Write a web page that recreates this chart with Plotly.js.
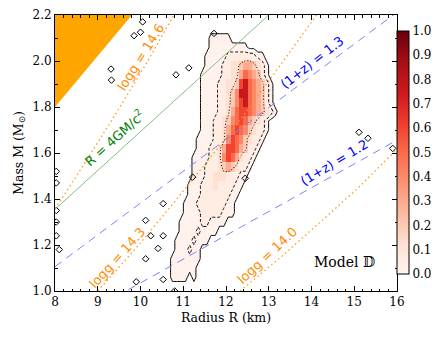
<!DOCTYPE html>
<html>
<head>
<meta charset="utf-8">
<script src="https://cdn.plot.ly/plotly-3.0.1.min.js"></script>
<style>
  body { margin: 0; background: #fff; }
  #chart { width: 441px; height: 338px; }
</style>
</head>
<body>
<div id="chart"></div>
<script>
// density shades, one char per bin (R step 0.1 km from 10.4, M step 0.04 from the top row 2.12-2.16)
var shadeLevels = [0, 0.015, 0.05, 0.12, 0.2, 0.3, 0.4, 0.5, 0.6, 0.75];
var densityRows = [
  '0000000000000000000000000000000',
  '0000000000001111100000000000000',
  '0000000000001111111110000000000',
  '0000000000011111222222211000000',
  '0000000000011112233455432100000',
  '0000000000111112233576542100000',
  '0000000000111122334897654210000',
  '0000000000111122346997654210000',
  '0000000000111122346897654210000',
  '0000000000111122357887654321000',
  '0000000000111223467875432100000',
  '0000000000111223578764322100000',
  '0000000001111223687643221000000',
  '0000000001112235887542210000000',
  '0000000011112236875322100000000',
  '0000000011122234543221000000000',
  '0000000011122333222110000000000',
  '0000000111222322221100000000000',
  '0000000111222222211000000000000',
  '0000001112222222110000000000000',
  '0000001111222221110000000000000',
  '0000011111221111000000000000000',
  '0000011112111100000000000000000',
  '0000111121110000000000000000000',
  '0000111211000000000000000000000',
  '0001111111000000000000000000000',
  '0001111110000000000000000000000',
  '0001111010000000000000000000000',
  '0000000000000000000000000000000'
];
var radiusStart = 10.4, radiusStep = 0.1;
var massTop = 2.16, massStep = 0.04;

// isolated small islands of the outer contour
var specksR = [9.31, 9.32, 10.83, 11.13, 11.72, 10.53, 10.12, 10.24, 10.53, 10.41, 10.12, 10.53, 9.9,
               10.8, 11.22, 12.45, 15.11, 15.32, 15.9, 8.03, 8.03, 8.03, 8.03, 8.03, 8.1, 9.85, 10.0, 10.05];
var specksM = [1.965, 1.917, 1.94, 1.97, 2.12, 1.38, 1.307, 1.24, 1.24, 1.185, 1.14, 1.05, 1.04,
               1.0, 1.495, 1.49, 1.69, 1.664, 1.62, 1.52, 1.47, 1.35, 1.30, 1.24, 1.18, 2.11, 2.125, 2.17];

// reference curves
var causalR = [8, 9.8, 8, 8];
var causalM = [1.8, 2.2, 2.2, 1.8];
var r4gmR = [8, 13];
var r4gmM = [1.355, 2.2];
var z13R = [8, 16];
var z13M = [1.106, 2.212];
var z12R = [8, 16];
var z12M = [0.828, 1.656];
var logg146R = [8, 8.59, 9.52, 10.17, 10.78];
var logg146M = [1.357, 1.525, 1.8, 2.0, 2.2];
var logg143R = [9.0, 9.96, 10.85, 11.72, 12.56, 14.12];
var logg143M = [1.0, 1.2, 1.4, 1.6, 1.8, 2.2];
var logg140R = [12.33, 13.3, 14.21, 15.1, 16.0];
var logg140M = [1.0, 1.15, 1.3, 1.45, 1.617];

var nCols = densityRows[0].length;
var xCenters = [], yCenters = [];
for (var i = 0; i < nCols; i++) xCenters.push(+(radiusStart + radiusStep * (i + 0.5)).toFixed(3));
var rowsUp = densityRows.slice().reverse();
for (var j = 0; j < rowsUp.length; j++) yCenters.push(+(massTop - massStep * (rowsUp.length - j - 0.5)).toFixed(3));
var zGrid = rowsUp.map(function (row) {
  return row.split('').map(function (ch) { return shadeLevels[+ch]; });
});
var zHeat = zGrid.map(function (r) { return r.map(function (v) { return v > 0 ? v : null; }); });

var reds = [[0, '#fff5f0'], [0.125, '#fee0d2'], [0.25, '#fcbba1'], [0.375, '#fc9272'],
            [0.5, '#fb6a4a'], [0.625, '#ef3b2c'], [0.75, '#cb181d'], [0.875, '#a50f15'], [1, '#67000d']];

var serif = 'DejaVu Serif, serif';
var sans = 'DejaVu Sans, sans-serif';

function contourLine(level, dash) {
  return {
    type: 'contour', x: xCenters, y: yCenters, z: zGrid,
    contours: {start: level, end: level, size: 1, coloring: 'none'},
    line: {color: 'black', width: 1, dash: dash, smoothing: 0},
    showscale: false, hoverinfo: 'skip'
  };
}
function curve(xs, ys, color, dash, width) {
  return {x: xs, y: ys, mode: 'lines', line: {color: color, dash: dash, width: width}, hoverinfo: 'skip'};
}

var data = [
  {x: causalR, y: causalM, mode: 'lines', fill: 'toself', fillcolor: '#ffa500', line: {width: 0}, hoverinfo: 'skip'},
  {
    type: 'heatmap', x: xCenters, y: yCenters, z: zHeat, zmin: 0, zmax: 1, colorscale: reds, zsmooth: false,
    hoverinfo: 'skip',
    colorbar: {
      thickness: 12, len: 0.88, lenmode: 'fraction', y: 0.502, yanchor: 'middle', x: 1.0, xanchor: 'left',
      xpad: 0, ypad: 0, outlinewidth: 1, outlinecolor: 'black', tick0: 0, dtick: 0.1, tickformat: '.1f',
      ticks: '', tickfont: {family: serif, size: 12, color: 'black'}
    }
  },
  contourLine(0.008, 'solid'),
  contourLine(0.033, '3px,2px'),
  contourLine(0.16, '1px,2px'),
  {x: specksR, y: specksM, mode: 'markers', marker: {symbol: 'diamond-open', size: 5, color: 'black', line: {width: 1}}, hoverinfo: 'skip'},
  curve(r4gmR, r4gmM, '#7fc07f', 'solid', 1),
  curve(z13R, z13M, '#8080ff', '8px,6px', 1),
  curve(z12R, z12M, '#8080ff', '8px,6px', 1),
  curve(logg146R, logg146M, '#ff9a1a', '1.5px,3px', 1.3),
  curve(logg143R, logg143M, '#ff9a1a', '1.5px,3px', 1.3),
  curve(logg140R, logg140M, '#ff9a1a', '1.5px,3px', 1.3)
];

function note(x, y, text, color, angle, size, family) {
  return {x: x, y: y, text: text, showarrow: false, textangle: angle,
          font: {family: family || sans, size: size || 13, color: color}};
}

var layout = {
  width: 441, height: 338,
  margin: {l: 55, r: 44, t: 15, b: 47},
  paper_bgcolor: 'white', plot_bgcolor: 'white',
  showlegend: false,
  xaxis: {
    range: [8, 16], tick0: 8, dtick: 1, ticks: 'inside', ticklen: 5, tickcolor: 'black',
    showline: true, linecolor: 'black', linewidth: 1, mirror: 'allticks', showgrid: false, zeroline: false,
    minor: {dtick: 0.2, ticks: 'inside', ticklen: 2.5, tickcolor: 'black'},
    tickfont: {family: serif, size: 12, color: 'black'},
    title: {text: 'Radius R (km)', font: {family: serif, size: 12.5, color: 'black'}, standoff: 4}
  },
  yaxis: {
    range: [1, 2.2], tick0: 1, dtick: 0.2, tickformat: '.1f', ticks: 'inside', ticklen: 5, tickcolor: 'black',
    showline: true, linecolor: 'black', linewidth: 1, mirror: 'allticks', showgrid: false, zeroline: false,
    minor: {dtick: 0.1, ticks: 'inside', ticklen: 2.5, tickcolor: 'black'},
    tickfont: {family: serif, size: 12, color: 'black'},
    title: {text: 'Mass M (M<sub>⊙</sub>)', font: {family: serif, size: 12.5, color: 'black'}, standoff: 6}
  },
  annotations: [
    note(10.0, 2.015, 'logg = 14.6', '#ff8c00', -58),
    note(9.38, 1.664, 'R = 4GM/c<sup>2</sup>', '#008000', -42),
    note(14.01, 1.995, '(1+z) = 1.3', '#0000ff', -38),
    note(14.53, 1.56, '(1+z) = 1.2', '#0000ff', -31),
    note(9.46, 1.146, 'logg = 14.3', '#ff8c00', -48),
    note(12.96, 1.155, 'logg = 14.0', '#ff8c00', -43),
    note(14.77, 1.124, 'Model 𝔻', 'black', 0, 14, serif)
  ]
};

Plotly.newPlot('chart', data, layout, {staticPlot: true});
</script>
</body>
</html>
